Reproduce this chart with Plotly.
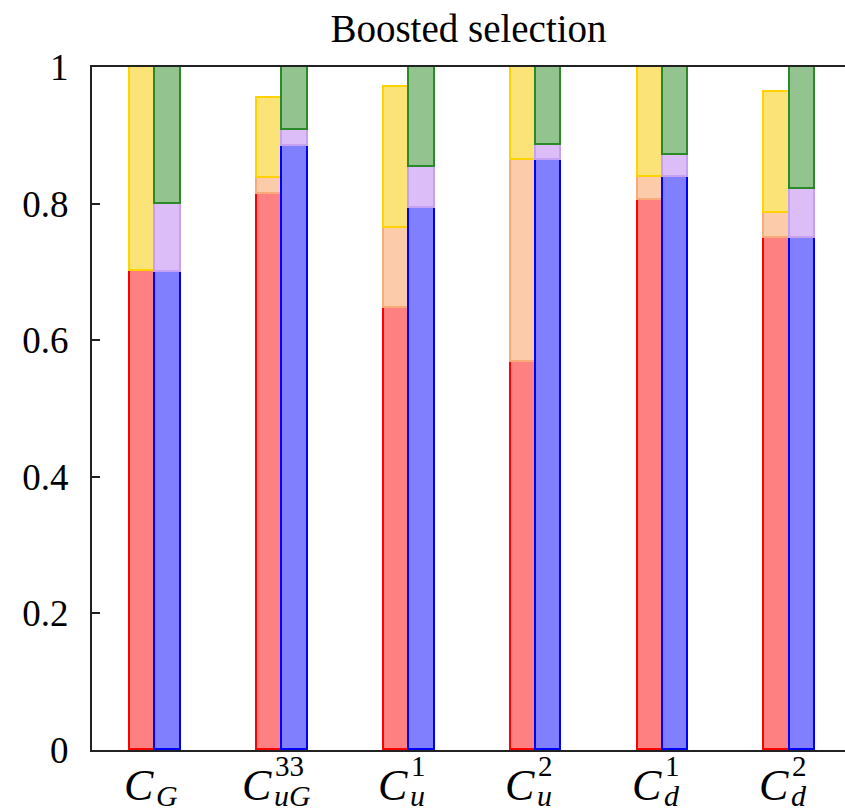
import plotly.graph_objects as go

# Category labels: (main, superscript, subscript)
label_sup = ["", "33", "1", "2", "1", "2"]
label_sub = ["G", "uG", "u", "u", "d", "d"]

# Left stack (red family)
red = [0.701, 0.814, 0.647, 0.568, 0.806, 0.750]
peach = [0.0, 0.023, 0.118, 0.296, 0.033, 0.036]
yellow = [0.299, 0.117, 0.206, 0.136, 0.161, 0.178]
# Right stack (blue family)
blue = [0.700, 0.884, 0.794, 0.864, 0.839, 0.750]
lavender = [0.100, 0.024, 0.059, 0.022, 0.032, 0.071]
green = [0.200, 0.092, 0.147, 0.114, 0.129, 0.179]

yticks = [0, 0.2, 0.4, 0.6, 0.8, 1]
ytick_text = ["0", "0.2", "0.4", "0.6", "0.8", "1"]

SERIF = "Liberation Serif"
BAR_W = 0.2
idx = list(range(len(label_sub)))

fig = go.Figure()

def add_stack(values, fill, edge, offset):
    xs = [i + offset for i in idx]
    ys = [v if v > 0 else None for v in values]
    fig.add_trace(go.Bar(
        x=xs, y=ys, width=BAR_W,
        marker=dict(color=fill, line=dict(color=edge, width=1.8)),
        showlegend=False, hoverinfo="skip",
    ))

add_stack(red, "#ff8080", "#ff0000", -BAR_W / 2)
add_stack(peach, "#fbcbaa", "#f8aa78", -BAR_W / 2)
add_stack(yellow, "#fbe377", "#ffd200", -BAR_W / 2)
add_stack(blue, "#8080ff", "#0000ff", BAR_W / 2)
add_stack(lavender, "#dcbdf8", "#c6a0f2", BAR_W / 2)
add_stack(green, "#93c48f", "#2a8a2a", BAR_W / 2)

W, H = 845, 808
ml, mr, mt, mb = 92, 0, 67, 58
unit_px = 126.86
x_left = -0.5
x_right = x_left + (W - ml - mr) / unit_px

annotations = []
for i in idx:
    shift = 1 - 9 * (len(label_sub[i]) - 1)
    annotations.append(dict(
        x=i, xref="x", y=(750 - 785) / 683, yref="paper",
        text="<i>C</i>", showarrow=False, xanchor="right", yanchor="middle",
        xshift=shift, font=dict(family=SERIF, size=44, color="black"),
    ))
    if label_sup[i]:
        annotations.append(dict(
            x=i, xref="x", y=(750 - 766) / 683, yref="paper",
            text=label_sup[i], showarrow=False, xanchor="left", yanchor="middle",
            xshift=shift - 1, font=dict(family=SERIF, size=29, color="black"),
        ))
    annotations.append(dict(
        x=i, xref="x", y=(750 - 795) / 683, yref="paper",
        text="<i>%s</i>" % label_sub[i], showarrow=False, xanchor="left", yanchor="middle",
        xshift=shift - 2, font=dict(family=SERIF, size=30, color="black"),
    ))

fig.update_layout(
    width=W, height=H,
    margin=dict(l=ml, r=mr, t=mt, b=mb, pad=0),
    barmode="stack",
    bargap=0,
    plot_bgcolor="white", paper_bgcolor="white",
    title=dict(
        text="Boosted selection", x=(ml + (W - ml - mr) / 2) / W, xanchor="center",
        y=1 - 28 / H, yanchor="middle",
        font=dict(family=SERIF, size=39, color="black"),
    ),
    xaxis=dict(
        range=[x_left, x_right], showgrid=False, zeroline=False,
        showticklabels=False, ticks="",
        showline=True, linecolor="#222", linewidth=2, mirror=True,
    ),
    yaxis=dict(
        range=[0, 1], showgrid=False, zeroline=False,
        tickvals=yticks, ticktext=ytick_text,
        ticks="inside", ticklen=8, tickwidth=1.5, tickcolor="#222",
        showline=True, linecolor="#222", linewidth=2,
        tickfont=dict(family=SERIF, size=37, color="black"),
        ticklabelstandoff=14,
    ),
    annotations=annotations,
)

fig.write_html("out.html")
